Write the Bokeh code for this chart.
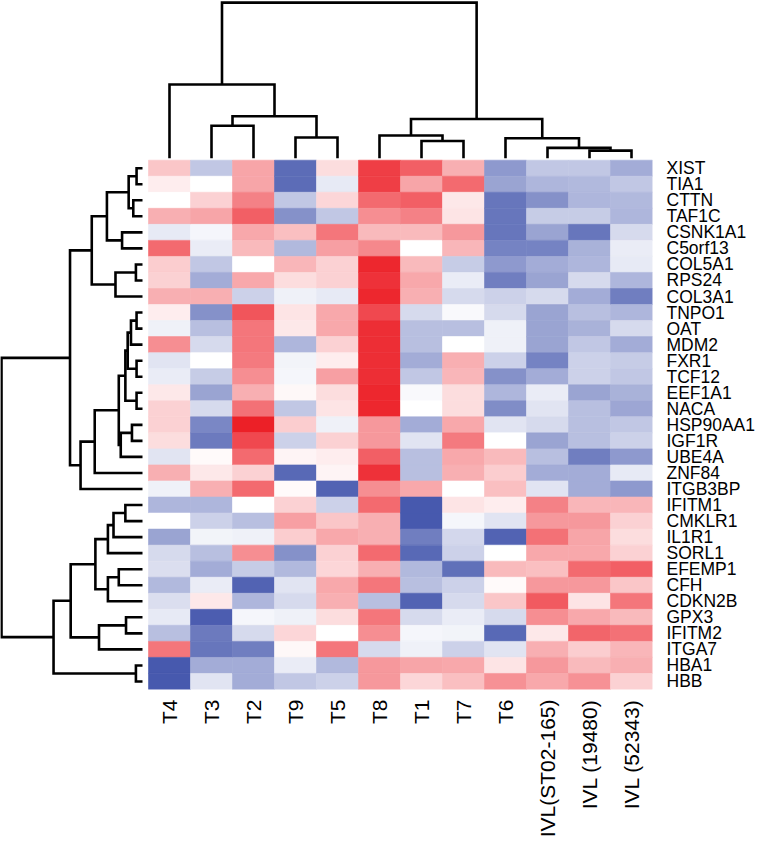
import numpy as np
from bokeh.plotting import figure
from bokeh.models import LinearColorMapper, FixedTicker, ColumnDataSource, Range1d
from bokeh.embed import file_html
from bokeh.resources import INLINE

# ---------------- data ----------------
genes = ["XIST", "TIA1", "CTTN", "TAF1C", "CSNK1A1", "C5orf13", "COL5A1", "RPS24",
         "COL3A1", "TNPO1", "OAT", "MDM2", "FXR1", "TCF12", "EEF1A1", "NACA",
         "HSP90AA1", "IGF1R", "UBE4A", "ZNF84", "ITGB3BP", "IFITM1", "CMKLR1",
         "IL1R1", "SORL1", "EFEMP1", "CFH", "CDKN2B", "GPX3", "IFITM2", "ITGA7",
         "HBA1", "HBB"]

samples = ["T4", "T3", "T2", "T9", "T5", "T8", "T1", "T7", "T6",
           "IVL(ST02-165)", "IVL (19480)", "IVL (52343)"]

# relative expression per sample (rows in gene order), -1 = blue, +1 = red
T4 = [0.25, 0.08, 0.0, 0.35, -0.12, 0.65, 0.22, 0.2, 0.35, 0.08, -0.08, 0.5, -0.15,
      -0.1, 0.1, 0.2, 0.2, 0.15, -0.15, 0.35, -0.08, -0.4, 0.0, -0.5, -0.2, -0.18,
      -0.38, -0.18, -0.12, -0.35, 0.6, -0.9, -0.9]
T3 = [-0.3, 0.0, 0.2, 0.4, -0.05, -0.1, -0.3, -0.45, 0.35, -0.6, -0.35, -0.2, 0.0,
      -0.28, -0.5, -0.2, -0.65, -0.72, 0.02, 0.1, 0.35, -0.4, -0.25, -0.06, -0.35,
      -0.45, -0.1, 0.1, -0.88, -0.72, -0.75, -0.45, -0.15]
T2 = [0.4, 0.4, 0.55, 0.7, 0.38, 0.3, 0.0, 0.38, -0.25, 0.75, 0.6, 0.6, 0.58, 0.5,
      0.35, 0.62, 0.98, 0.8, 0.65, 0.2, 0.65, 0.0, -0.35, -0.08, 0.5, -0.28, -0.85,
      -0.4, -0.05, -0.2, -0.7, -0.45, -0.45]
T9 = [-0.8, -0.8, -0.3, -0.6, 0.28, -0.38, 0.32, 0.15, -0.08, 0.12, 0.1, -0.4, -0.06,
      -0.05, 0.03, -0.3, 0.22, -0.25, 0.05, -0.82, 0.02, 0.2, 0.42, 0.22, -0.6, -0.38,
      -0.15, -0.2, -0.08, 0.18, 0.03, -0.1, -0.3]
T5 = [0.15, -0.12, 0.18, -0.3, 0.6, 0.42, 0.2, 0.2, -0.12, 0.38, 0.38, 0.2, 0.08,
      0.42, 0.15, 0.12, -0.08, 0.2, 0.08, 0.05, -0.85, -0.25, 0.25, 0.38, 0.2, 0.18,
      0.38, 0.35, 0.15, 0.0, 0.6, -0.38, -0.25]
T8 = [0.85, 0.85, 0.65, 0.5, 0.3, 0.52, 0.95, 0.9, 0.95, 0.8, 0.92, 0.92, 0.92, 0.92,
      0.95, 0.95, 0.45, 0.45, 0.7, 0.9, 0.5, 0.65, 0.35, 0.35, 0.65, 0.35, 0.6, -0.35,
      0.6, 0.5, -0.2, 0.45, 0.45]
T1 = [0.7, 0.4, 0.7, 0.55, 0.3, 0.0, 0.3, 0.38, 0.35, -0.2, -0.35, -0.35, -0.45, -0.3,
      -0.03, 0.0, -0.45, -0.15, -0.35, -0.35, 0.38, -0.9, -0.9, -0.7, -0.82, -0.38,
      -0.35, -0.85, -0.2, -0.05, -0.08, 0.4, 0.18]
T7 = [0.35, 0.65, 0.1, 0.12, 0.45, 0.32, -0.28, -0.1, -0.2, -0.03, -0.35, 0.0, 0.35,
      0.32, 0.15, 0.15, 0.38, 0.58, 0.38, 0.35, 0.0, 0.12, -0.05, -0.22, -0.25, -0.78,
      -0.25, -0.2, -0.1, -0.06, -0.25, 0.38, 0.28]
T6 = [-0.55, -0.5, -0.75, -0.75, -0.75, -0.68, -0.55, -0.7, -0.25, -0.2, -0.08, -0.08,
      -0.25, -0.6, -0.4, -0.62, -0.15, 0.0, 0.3, 0.22, 0.28, 0.08, -0.15, -0.85, 0.0,
      0.3, 0.02, 0.25, -0.2, -0.82, -0.15, 0.12, 0.48]
IVL_ST02 = [-0.3, -0.4, -0.6, -0.28, -0.5, -0.68, -0.45, -0.5, -0.2, -0.5, -0.5, -0.5,
            -0.68, -0.45, -0.1, -0.15, -0.2, -0.5, -0.35, -0.45, -0.15, 0.55, 0.45,
            0.62, 0.38, 0.28, 0.45, 0.72, 0.5, 0.1, 0.35, 0.45, 0.38]
IVL_19480 = [-0.3, -0.38, -0.4, -0.28, -0.75, -0.42, -0.4, -0.2, -0.45, -0.35, -0.42,
             -0.3, -0.25, -0.25, -0.5, -0.35, -0.35, -0.35, -0.7, -0.45, -0.45, 0.32,
             0.45, 0.4, 0.38, 0.65, 0.45, 0.12, 0.38, 0.68, 0.22, 0.3, 0.48]
IVL_52343 = [-0.45, -0.3, -0.38, -0.4, -0.2, -0.1, -0.12, -0.4, -0.7, -0.4, -0.2,
             -0.45, -0.28, -0.3, -0.42, -0.48, -0.3, -0.25, -0.55, -0.12, -0.55, 0.32,
             0.2, 0.15, 0.2, 0.7, 0.25, 0.6, 0.3, 0.62, 0.32, 0.35, 0.2]

columns = [T4, T3, T2, T9, T5, T8, T1, T7, T6, IVL_ST02, IVL_19480, IVL_52343]

# sample dendrogram: (left, right, height); leaves 0..11, merged nodes numbered from 12
col_links = [(1, 2, 32.4), (3, 4, 20.7), (12, 13, 42.0), (0, 14, 73.7),
             (6, 7, 17.2), (5, 16, 22.7), (10, 11, 7.6), (9, 18, 10.3),
             (8, 19, 20.0), (17, 20, 39.2), (15, 21, 155.6)]

# gene dendrogram: leaves 0..32, merged nodes numbered from 33
row_links = [(0, 1, 18), (2, 3, 28), (33, 34, 42), (4, 5, 62), (35, 36, 108),
             (6, 7, 20), (38, 8, 82), (37, 39, 154), (9, 10, 18), (41, 11, 35),
             (12, 13, 18), (42, 43, 45), (14, 15, 18), (44, 45, 52), (16, 17, 32),
             (47, 18, 66), (46, 48, 72), (49, 19, 145), (50, 20, 188), (40, 51, 220),
             (21, 22, 52), (53, 23, 88), (54, 24, 105), (25, 26, 72), (56, 27, 105),
             (55, 57, 143), (28, 29, 50), (59, 30, 132), (58, 60, 218), (31, 32, 20),
             (61, 62, 270), (52, 63, 428)]

# ---------------- layout constants ----------------
COL_PX = 42.0
ROW_PX = 16.04
n_cols = len(samples)
n_rows = len(genes)
FRAME_W = 652
FRAME_H = 689

x_end = n_cols - 0.5
x_start = x_end - FRAME_W / COL_PX
y_start = -0.5
y_end = y_start + FRAME_H / ROW_PX


def make_palette(n=257):
    white = np.array([255.0, 255.0, 255.0])
    red = np.array([236.0, 28.0, 36.0])
    blue = np.array([52.0, 72.0, 166.0])
    out = []
    for t in np.linspace(-1, 1, n):
        c = white + (-t) * (blue - white) if t < 0 else white + t * (red - white)
        out.append("#%02x%02x%02x" % tuple(int(round(v)) for v in c))
    return out


mapper = LinearColorMapper(palette=make_palette(), low=-1, high=1)

xs, ys, vs = [], [], []
for ci, col in enumerate(columns):
    for ri, v in enumerate(col):
        xs.append(ci)
        ys.append(n_rows - 1 - ri)
        vs.append(v)
src = ColumnDataSource(dict(x=xs, y=ys, v=vs))

p = figure(frame_width=FRAME_W, frame_height=FRAME_H,
           x_range=Range1d(x_start, x_end), y_range=Range1d(y_start, y_end),
           output_backend="svg", toolbar_location=None,
           y_axis_location="right", x_axis_location="below",
           min_border_left=0, min_border_top=0, min_border_right=0,
           min_border_bottom=0)
p.outline_line_color = None
p.xgrid.visible = False
p.ygrid.visible = False
p.background_fill_color = "white"
p.border_fill_color = "white"

p.rect(x="x", y="y", width=1, height=1, source=src,
       fill_color={"field": "v", "transform": mapper},
       line_color={"field": "v", "transform": mapper}, line_width=0.6)


def dendro(n, links):
    pos = {i: float(i) for i in range(n)}
    hgt = {i: 0.0 for i in range(n)}
    segs = []
    for k, (a, b, h) in enumerate(links):
        segs.append(([pos[a], pos[a], pos[b], pos[b]], [hgt[a], h, h, hgt[b]]))
        pos[n + k] = (pos[a] + pos[b]) / 2.0
        hgt[n + k] = h
    return segs


# top dendrogram (heights in px above the leaf base)
top_base = n_rows - 0.5 + 2.0 / ROW_PX
txs, tys = [], []
for px_, hy in dendro(n_cols, col_links):
    txs.append(px_)
    tys.append([top_base + h / ROW_PX for h in hy])
p.multi_line(txs, tys, line_color="black", line_width=2.6, line_join="miter")

# left dendrogram
left_base = -0.5 - 6.0 / COL_PX
left_scale = 141.0 / 428.0  # px per height unit
lxs, lys = [], []
for pr, hh in dendro(n_rows, row_links):
    lys.append([n_rows - 1 - r for r in pr])
    lxs.append([left_base - h * left_scale / COL_PX for h in hh])
p.multi_line(lxs, lys, line_color="black", line_width=2.6, line_join="miter")

# axes as labels
xa = p.xaxis[0]
xa.ticker = FixedTicker(ticks=list(range(n_cols)))
xa.major_label_overrides = {i: s for i, s in enumerate(samples)}
xa.major_label_orientation = np.pi / 2
xa.axis_line_color = None
xa.major_tick_line_color = None
xa.minor_tick_line_color = None
xa.major_tick_out = 0
xa.major_tick_in = 0
xa.major_label_standoff = 10
xa.major_label_text_font = "Liberation Sans"
xa.major_label_text_font_size = "21px"
xa.major_label_text_color = "black"

ya = p.yaxis[0]
ya.ticker = FixedTicker(ticks=list(range(n_rows)))
ya.major_label_overrides = {n_rows - 1 - i: g for i, g in enumerate(genes)}
ya.axis_line_color = None
ya.major_tick_line_color = None
ya.minor_tick_line_color = None
ya.major_tick_out = 0
ya.major_tick_in = 0
ya.major_label_standoff = 14
ya.major_label_text_font = "Liberation Sans"
ya.major_label_text_font_size = "17.5px"
ya.major_label_text_color = "black"

open("out.html", "w").write(file_html(p, INLINE))
